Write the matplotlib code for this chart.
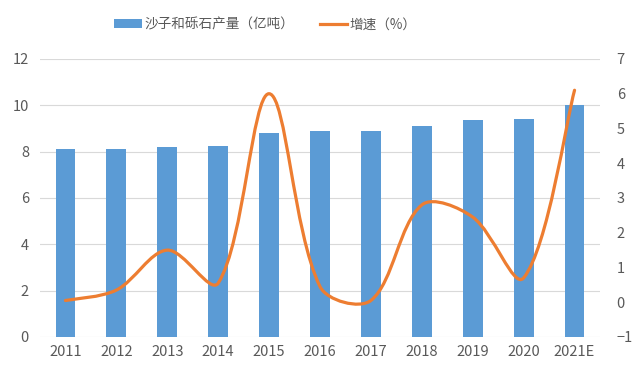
import math
import matplotlib.pyplot as plt
from matplotlib.path import Path
from matplotlib.patches import PathPatch, Patch
from matplotlib.lines import Line2D

plt.rcParams['font.family'] = ['Noto Sans CJK SC', 'DejaVu Sans']

years = ["2011", "2012", "2013", "2014", "2015", "2016",
         "2017", "2018", "2019", "2020", "2021E"]
output = [8.1, 8.1, 8.2, 8.25, 8.8, 8.9, 8.9, 9.1, 9.35, 9.4, 10.0]
growth = [0.05, 0.35, 1.5, 0.55, 6.0, 0.45, 0.05, 2.8, 2.45, 0.7, 6.1]

BLUE = "#5B9BD5"
ORANGE = "#ED7D31"
GRID = "#D9D9D9"
TEXT = "#595959"


def smooth_path(xs, ys, sx=50.9, sy=34.75):
    # smoothed line like the office one: bezier segments, control arms
    # scaled by chord length (measured in screen units) so short
    # segments next to long ones do not overshoot
    px = [v * sx for v in xs]
    py = [v * sy for v in ys]
    n = len(px)

    def dist(i, j):
        return math.hypot(px[j] - px[i], py[j] - py[i])

    verts = [(xs[0], ys[0])]
    codes = [Path.MOVETO]
    for i in range(n - 1):
        a, b = max(i - 1, 0), min(i + 2, n - 1)
        d01, d12, d23 = dist(a, i), dist(i, i + 1), dist(i + 1, b)
        f1 = d12 / (d01 + d12) if d01 > 0 else 0.5
        f2 = d12 / (d12 + d23) if d23 > 0 else 0.5
        f1 *= 2 / 3
        f2 *= 2 / 3
        c1x = px[i] + (px[i + 1] - px[a]) * f1 / 2
        c1y = py[i] + (py[i + 1] - py[a]) * f1 / 2
        c2x = px[i + 1] - (px[b] - px[i]) * f2 / 2
        c2y = py[i + 1] - (py[b] - py[i]) * f2 / 2
        verts += [(c1x / sx, c1y / sy), (c2x / sx, c2y / sy), (xs[i + 1], ys[i + 1])]
        codes += [Path.CURVE4] * 3
    return Path(verts, codes)


fig = plt.figure(figsize=(6.4, 3.78), dpi=100)
ax = fig.add_axes([0.0625, 0.1085, 0.875, 0.7355])
ax2 = ax.twinx()

x = list(range(len(years)))
ax.bar(x, output, width=0.39, color=BLUE, zorder=2)
ax.set_xlim(-0.5, len(years) - 0.5)
ax.set_ylim(0, 12)
ax.set_yticks(range(0, 13, 2))
ax.set_xticks(x)
ax.set_xticklabels(years)
ax.grid(axis="y", color=GRID, linewidth=0.8, zorder=0)
ax.set_axisbelow(True)

ax2.set_ylim(-1, 7)
ax2.set_yticks(range(-1, 8))
ax2.add_patch(PathPatch(smooth_path(x, growth), facecolor="none",
                        edgecolor=ORANGE, linewidth=2.3, capstyle="round",
                        zorder=3))

for a in (ax, ax2):
    for s in a.spines.values():
        s.set_visible(False)
    a.tick_params(length=0, colors=TEXT, labelsize=10.5)
ax.tick_params(axis="x", pad=6)
ax.tick_params(axis="y", pad=8)
ax2.tick_params(axis="y", pad=12)

handles = [Patch(facecolor=BLUE), Line2D([], [], color=ORANGE, linewidth=2.3)]
fig.legend(handles, ["沙子和砾石产量（亿吨）", "增速（%）"], loc="center",
           bbox_to_anchor=(0.415, 0.936), ncol=2, frameon=False, fontsize=9.8,
           labelcolor=TEXT, handlelength=2.0, handleheight=0.6,
           columnspacing=1.9, handletextpad=0.2)

fig.savefig("out.png", dpi=100)
